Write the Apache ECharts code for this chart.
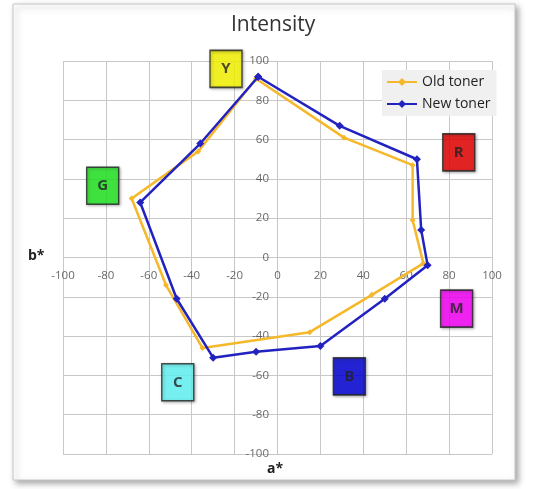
<!DOCTYPE html>
<html><head><meta charset="utf-8">
<script src="https://cdn.jsdelivr.net/npm/echarts@6/dist/echarts.min.js"></script>
<style>html,body{margin:0;padding:0;background:#fff}#c{width:535px;height:489px}</style>
</head><body><div id="c"></div>
<script>
const ticks = [-100,-80,-60,-40,-20,0,20,40,60,80,100];
const oldToner = [[-10,91],[31,61],[63,47],[63,19],[68,-3],[44,-19],[15,-38],[-35,-46],[-52,-14],[-68,30],[-37,54],[-10,91]];
const newToner = [[-9,92],[29,67],[65,50],[67,14],[70,-4],[50,-21],[20,-45],[-10,-48],[-30,-51],[-47,-21],[-64,28],[-36,58],[-9,92]];
const boxNames = ['Y','G','R','M','B','C'];
const boxA = [-24,-81.5,84.5,83.5,33.5,-46.5];
const boxB = [96,36.5,53.5,-26,-60.5,-63.5];
const boxColors = ['#ffff00','#22ee22','#ee0000','#ff00ff','#0000dd','#66ffff'];

const font = 'Open Sans';
const tickLabelStyle = {show:true,fontFamily:font,fontSize:11.5,color:'#444',formatter:p=>String(p.data.t)};
const chart = echarts.init(document.getElementById('c'));
chart.setOption({
  backgroundColor:'#fff',
  animation:false,
  graphic:[
    {type:'rect',shape:{x:13,y:4,width:502,height:476},style:{fill:'#fff',stroke:'#c8c8c8',lineWidth:1,shadowBlur:6,shadowOffsetX:3,shadowOffsetY:3,shadowColor:'rgba(0,0,0,0.35)'},z:-10},
    {type:'text',left:28,top:249,style:{text:'b*',font:'bold 14px "'+font+'"',fill:'#222'}},
    {type:'text',left:267,top:462,style:{text:'a*',font:'bold 14px "'+font+'"',fill:'#222'}}
  ],
  title:{text:'Intensity',left:226,top:10,textStyle:{fontFamily:font,fontSize:21,fontWeight:'normal',color:'#333'}},
  legend:{orient:'vertical',left:382,top:70,backgroundColor:'#f0f0f0',padding:[5,6,5,4],itemGap:8,itemWidth:30,itemHeight:10,
    textStyle:{fontFamily:font,fontSize:14,color:'#222'},data:['Old toner','New toner']},
  grid:{left:63,right:43,top:61,bottom:35},
  xAxis:{type:'value',min:-100,max:100,interval:20,
    axisLine:{show:false},axisTick:{show:false},axisLabel:{show:false},
    splitLine:{lineStyle:{color:'#c8c8c8'}}},
  yAxis:{type:'value',min:-100,max:100,interval:20,
    axisLine:{show:false},axisTick:{show:false},axisLabel:{show:false},
    splitLine:{lineStyle:{color:'#c8c8c8'}}},
  series:[
    {name:'xticks',type:'scatter',symbol:'circle',symbolSize:1,silent:true,z:1,
      itemStyle:{color:'rgba(0,0,0,0)'},
      data:ticks.map(t=>({value:[t,0],t:t})),
      label:Object.assign({position:'bottom',distance:12},tickLabelStyle)},
    {name:'yticks',type:'scatter',symbol:'circle',symbolSize:1,silent:true,z:1,
      itemStyle:{color:'rgba(0,0,0,0)'},
      data:ticks.map(t=>({value:[0,t],t:t})),
      label:Object.assign({position:'left',distance:8},tickLabelStyle)},
    {name:'Old toner',type:'line',data:oldToner,symbol:'diamond',symbolSize:6,
      lineStyle:{color:'#f5b82a',width:2.5},itemStyle:{color:'#f5b82a'},z:3},
    {name:'New toner',type:'line',data:newToner,symbol:'diamond',symbolSize:8,
      lineStyle:{color:'#2222c0',width:2.5},itemStyle:{color:'#2222c0'},z:4},
    {name:'boxes',type:'scatter',symbol:'rect',symbolSize:[32,37],z:5,
      data:boxNames.map((n,i)=>({name:n,value:[boxA[i],boxB[i]],itemStyle:{color:boxColors[i]}})),
      itemStyle:{borderColor:'#222',borderWidth:1.5,shadowBlur:3,shadowOffsetX:1,shadowOffsetY:1,shadowColor:'rgba(0,0,0,0.4)'},
      label:{show:true,position:'inside',formatter:'{b}',fontFamily:font,fontWeight:'bold',fontSize:15,color:'#222'}}
  ]
});
</script></body></html>
